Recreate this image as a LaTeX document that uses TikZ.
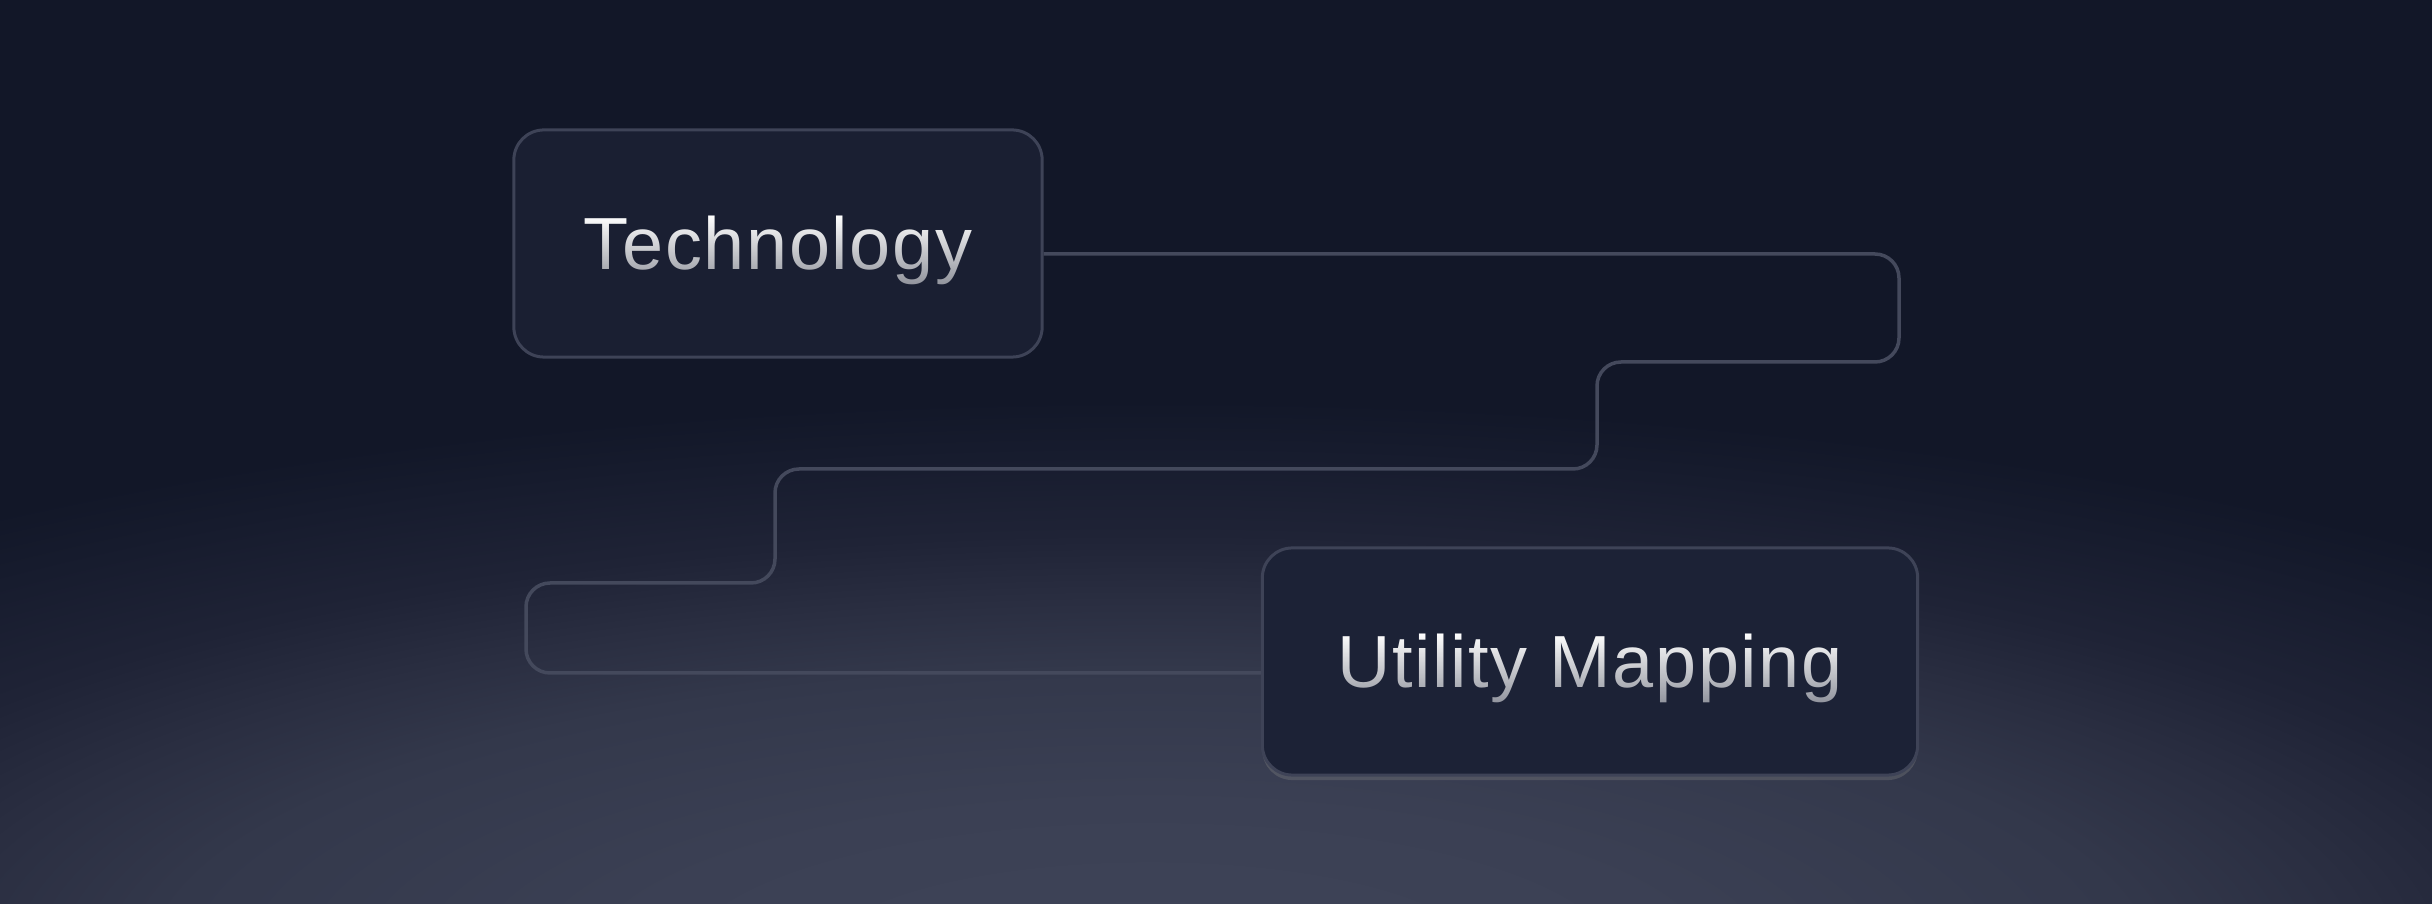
\documentclass[tikz,border=0pt]{standalone}
\usepackage{fontspec}
\setmainfont{Liberation Sans}
\newfontfamily\cardfont[LetterSpace=2.2]{Liberation Sans}
\usetikzlibrary{fadings,shadows}

\definecolor{bgnavy}{HTML}{121728}
\definecolor{glowcore}{HTML}{3F4458}
\definecolor{glowhigh}{HTML}{3B4054}
\definecolor{glowmid}{HTML}{33384B}
\definecolor{glowlow}{HTML}{2A2E41}
\definecolor{glowedge}{HTML}{1F2336}
\definecolor{glowfade}{HTML}{161B2D}
\definecolor{cardedge}{HTML}{3E4357}
\definecolor{techfill}{HTML}{1A1F32}
\definecolor{utilfill}{HTML}{1C2236}
\definecolor{wireline}{HTML}{44495C}

\pgfdeclareradialshading{bottomglow}{\pgfpoint{0bp}{0bp}}{%
    color(0bp)=(glowcore); color(7bp)=(glowhigh); color(13bp)=(glowmid);
    color(16bp)=(glowlow); color(19bp)=(glowedge); color(23bp)=(glowfade);
    color(25bp)=(bgnavy); color(50bp)=(bgnavy)}

\begin{document}
\begin{tikzpicture}[
        x = 0.01cm,
        y = -0.01cm,
        card/.style = {
                draw = cardedge,
                line width = 0.03cm,
                rounded corners = 0.3cm,
                minimum height = 2.27cm,
                inner sep = 0pt
            },
        wire/.style = {
                draw = wireline,
                line width = 0.035cm,
                rounded corners = 0.24cm
            },
        caption/.style = {
                text = white,
                font = \cardfont\fontsize{21}{25}\selectfont,
                inner sep = 0pt,
                anchor = base
            },
        dimmer/.style = {
                fill opacity = 0.5,
                path fading = north
            }
    ]

    % backdrop
    \fill[bgnavy] (0,0) rectangle (2432,904);
    \begin{scope}
        \clip (0,0) rectangle (2432,904);
        \shade[shading = bottomglow] (1150,960) ellipse [x radius = 19cm, y radius = 5.6cm];
    \end{scope}
    \useasboundingbox (0,0) rectangle (2432,904);

    % cards
    \node[card, fill = techfill, minimum width = 5.28cm] (tech) at (778,243.5) {};
    \node[card, fill = utilfill, minimum width = 6.55cm,
        drop shadow = {opacity = 0.35, shadow xshift = 0cm, shadow yshift = -0.05cm}]
        (util) at (1590,661.5) {};

    % connector
    \draw[wire] ([yshift = -0.105cm]tech.east) -| (1899,362) -| (1597,469)
        -| (775,583) -| (526,673) -- ([yshift = -0.115cm]util.west);

    % captions, darkened towards the baseline
    \node[caption] (techcaption) at ([yshift = -0.26cm]tech.center) {Technology};
    \node[caption] (utilcaption) at ([yshift = -0.26cm]util.center) {Utility Mapping};
    \fill[techfill, dimmer] ([xshift = -2.1cm, yshift = 0.28cm]tech.center)
        rectangle ([xshift = 2.1cm, yshift = -0.44cm]tech.center);
    \fill[utilfill, dimmer] ([xshift = -2.7cm, yshift = 0.28cm]util.center)
        rectangle ([xshift = 2.7cm, yshift = -0.44cm]util.center);

\end{tikzpicture}
\end{document}
